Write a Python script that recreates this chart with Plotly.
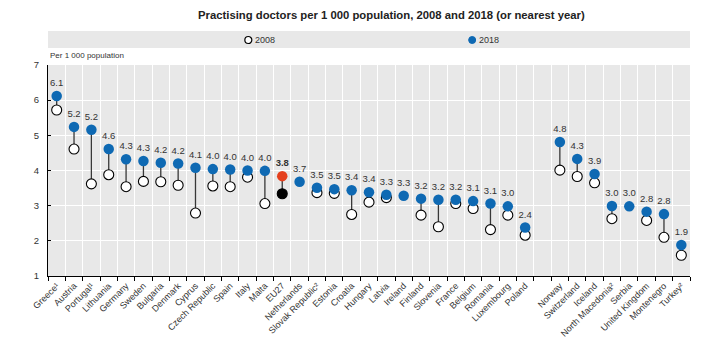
import plotly.graph_objects as go

# Practising doctors per 1 000 population
eu_countries = ["Greece¹", "Austria", "Portugal¹", "Lithuania", "Germany", "Sweden",
                "Bulgaria", "Denmark", "Cyprus", "Czech Republic", "Spain", "Italy",
                "Malta", "EU27", "Netherlands", "Slovak Republic²", "Estonia", "Croatia",
                "Hungary", "Latvia", "Ireland", "Finland", "Slovenia", "France",
                "Belgium", "Romania", "Luxembourg", "Poland"]
eu_2018 = [6.12, 5.24, 5.16, 4.61, 4.32, 4.27, 4.22, 4.20, 4.08, 4.04, 4.03, 4.00,
           3.99, 3.84, 3.68, 3.51, 3.47, 3.44, 3.38, 3.31, 3.28, 3.20, 3.17, 3.17,
           3.13, 3.06, 2.98, 2.38]
eu_2008 = [5.72, 4.61, 3.62, 3.88, 3.54, 3.69, 3.68, 3.58, 2.79, 3.56, 3.54, 3.81,
           3.06, 3.34, None, 3.37, 3.35, 2.75, 3.10, 3.23, None, 2.73, 2.40, 3.06,
           2.92, 2.32, 2.73, 2.16]

other_countries = ["Norway", "Switzerland", "Iceland", "North Macedonia²", "Serbia",
                   "United Kingdom", "Montenegro", "Turkey²"]
other_2018 = [4.81, 4.33, 3.90, 2.99, 2.98, 2.83, 2.76, 1.88]
other_2008 = [4.01, 3.83, 3.65, 2.63, None, 2.58, 2.10, 1.59]

AGGREGATE = "EU27"
BLUE = "#0E69B3"
RED = "#E5401E"
FONT = "Liberation Sans Narrow, Arial Narrow, Liberation Sans, Arial, sans-serif"

# category slots: EU block, one empty slot, then the other countries
labels = eu_countries + other_countries
y18 = eu_2018 + other_2018
y08 = eu_2008 + other_2008
xpos = list(range(len(eu_countries))) + [len(eu_countries) + 1 + i for i in range(len(other_countries))]
n_slots = len(eu_countries) + 1 + len(other_countries)

# connectors between the two years
cx, cy = [], []
for x, a, b in zip(xpos, y08, y18):
    if a is not None:
        cx += [x, x, None]
        cy += [a, b, None]

reg = [i for i, c in enumerate(labels) if c != AGGREGATE]
agg = [i for i, c in enumerate(labels) if c == AGGREGATE]

fig = go.Figure()
fig.add_trace(go.Scatter(x=cx, y=cy, mode="lines",
                         line=dict(color="#383838", width=1.3),
                         hoverinfo="skip", showlegend=False))
fig.add_trace(go.Scatter(x=[xpos[i] for i in reg if y08[i] is not None],
                         y=[y08[i] for i in reg if y08[i] is not None],
                         mode="markers", name="2008",
                         marker=dict(size=10, color="white", line=dict(color="black", width=1.1)),
                         showlegend=False))
fig.add_trace(go.Scatter(x=[xpos[i] for i in reg], y=[y18[i] for i in reg],
                         mode="markers+text", name="2018",
                         marker=dict(size=10.5, color=BLUE),
                         texttemplate="%{y:.1f}", textposition="top center",
                         textfont=dict(family=FONT, size=9.5, color="#333333"),
                         showlegend=False))
fig.add_trace(go.Scatter(x=[xpos[i] for i in agg], y=[y08[i] for i in agg],
                         mode="markers", name="EU27 2008",
                         marker=dict(size=10, color="black", line=dict(color="black", width=1.1)),
                         showlegend=False))
fig.add_trace(go.Scatter(x=[xpos[i] for i in agg], y=[y18[i] for i in agg],
                         mode="markers+text", name="EU27 2018",
                         marker=dict(size=10.5, color=RED),
                         texttemplate="<b>%{y:.1f}</b>", textposition="top center",
                         textfont=dict(family=FONT, size=9.5, color="#333333"),
                         showlegend=False))

# plot area in pixels
W_FIG, H_FIG = 715, 341
L, R, T, B = 47.5, 690, 65, 276


def px_x(px):
    return (px - L) / (R - L)


def px_y(py):
    return (B - py) / (B - T)


boundaries = [i - 0.5 for i in range(n_slots + 1)]

fig.update_layout(
    width=W_FIG, height=H_FIG,
    margin=dict(l=L, r=W_FIG - R, t=T, b=H_FIG - B, autoexpand=False),
    paper_bgcolor="white", plot_bgcolor="#E8E8E8",
    font=dict(family=FONT, size=9, color="#333333"),
    xaxis=dict(range=[-0.5, n_slots - 0.5], tickmode="array", tickvals=xpos, ticktext=labels,
               tickangle=-45, ticks="", showgrid=False, zeroline=False,
               showline=True, linecolor="black", linewidth=1.2,
               tickfont=dict(family=FONT, size=9, color="#333333"), automargin=False,
               minor=dict(tickmode="array", tickvals=boundaries, showgrid=True,
                          gridcolor="white", gridwidth=1, ticks="outside",
                          ticklen=4, tickcolor="black", tickwidth=1)),
    yaxis=dict(range=[1, 7], dtick=1, tick0=1, showgrid=True, gridcolor="white", gridwidth=1.2,
               zeroline=False, showline=True, linecolor="black", linewidth=1.2,
               ticks="inside", ticklen=3, tickcolor="black", ticklabelstandoff=6,
               tickfont=dict(family=FONT, size=9.5, color="#333333"), automargin=False),
    showlegend=False,
)

# legend band
fig.add_shape(type="rect", xref="paper", yref="paper", x0=0, x1=1,
              y0=px_y(48), y1=px_y(31), fillcolor="#E8E8E8", line=dict(width=0), layer="below")
fig.add_shape(type="circle", xref="paper", yref="paper", xsizemode="pixel", ysizemode="pixel",
              xanchor=px_x(248), yanchor=px_y(40), x0=-3.5, x1=3.5, y0=-3.5, y1=3.5,
              fillcolor="white", line=dict(color="black", width=1.2))
fig.add_shape(type="circle", xref="paper", yref="paper", xsizemode="pixel", ysizemode="pixel",
              xanchor=px_x(472), yanchor=px_y(40), x0=-3.5, x1=3.5, y0=-3.5, y1=3.5,
              fillcolor=BLUE, line=dict(color=BLUE, width=1))
for px, txt in [(253, "2008"), (477, "2018")]:
    fig.add_annotation(xref="paper", yref="paper", x=px_x(px), y=px_y(40), text=txt,
                       showarrow=False, xanchor="left", yanchor="middle",
                       font=dict(family=FONT, size=9, color="#333333"))

# title and unit label
fig.add_annotation(xref="paper", yref="paper", x=px_x(391), y=px_y(15),
                   text="<b>Practising doctors per 1 000 population, 2008 and 2018 (or nearest year)</b>",
                   showarrow=False, xanchor="center", yanchor="middle",
                   font=dict(family=FONT, size=11.3, color="#222222"))
fig.add_annotation(xref="paper", yref="paper", x=px_x(47), y=px_y(56), text="Per 1 000 population",
                   showarrow=False, xanchor="left", yanchor="middle",
                   font=dict(family=FONT, size=8, color="#333333"))

fig.write_html("out.html")
